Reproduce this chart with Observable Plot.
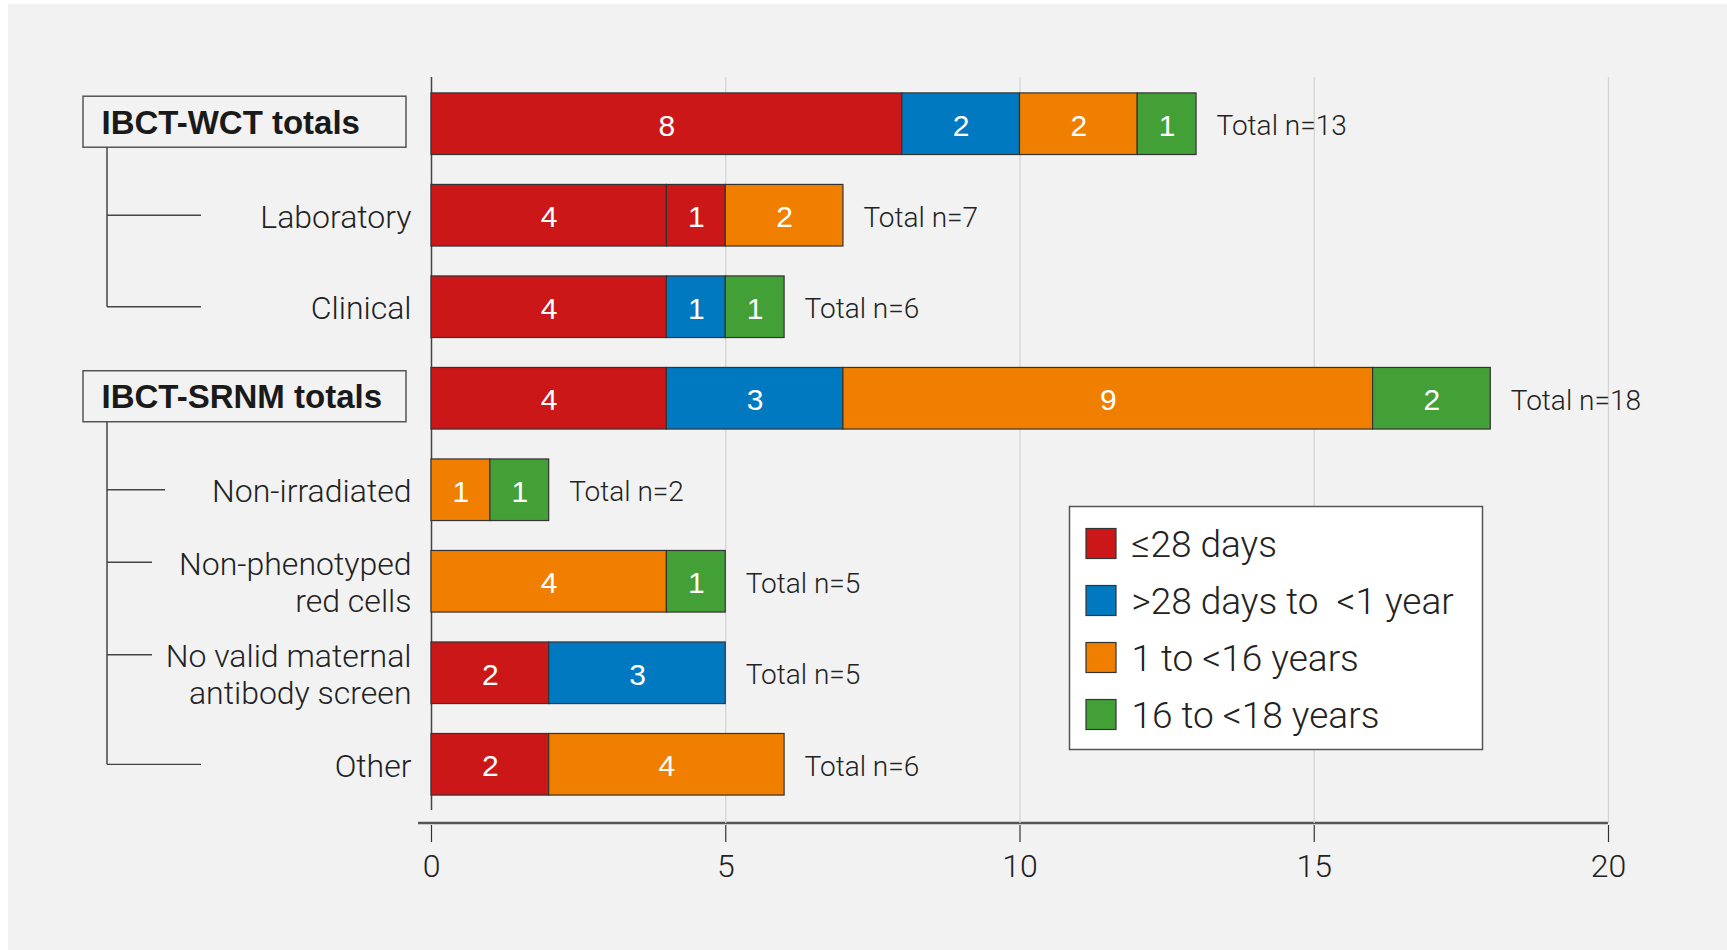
<!DOCTYPE html>
<html><head><meta charset="utf-8">
<script src="https://cdn.jsdelivr.net/npm/d3@7"></script>
<script src="https://cdn.jsdelivr.net/npm/@observablehq/plot@0.6"></script>
<style>
html,body{margin:0;padding:0;background:#fff;width:1727px;height:950px;overflow:hidden;}
#bg{position:absolute;left:8px;top:4px;width:1719px;height:946px;background:#f2f2f2;}
#chart{position:absolute;left:0;top:0;}
</style></head><body><div id="bg"></div><div id="chart"></div>
<script>
// ---- data ----
const categories = ["IBCT-WCT totals", "Laboratory", "Clinical", "IBCT-SRNM totals", "Non-irradiated", "Non-phenotyped\nred cells", "No valid maternal\nantibody screen", "Other"];
const groupRows = ["IBCT-WCT totals", "IBCT-SRNM totals"];
const groupChildren = [["Laboratory", "Clinical"], ["Non-irradiated", "Non-phenotyped\nred cells", "No valid maternal\nantibody screen", "Other"]];
const ageGroups = ["≤28 days", ">28 days to  <1 year", "1 to <16 years", "16 to <18 years"];
const ageColors = ["#cc1719", "#0079c1", "#f07f00", "#43a036"];
// segments, in stacking order (category index, age-group index, count)
const segCategory = [0, 0, 0, 0, 1, 1, 1, 2, 2, 2, 3, 3, 3, 3, 4, 4, 5, 5, 6, 6, 7, 7];
const segAge      = [0, 1, 2, 3, 0, 0, 2, 0, 1, 3, 0, 1, 2, 3, 2, 3, 2, 3, 0, 1, 0, 2];
const segValue    = [8, 2, 2, 1, 4, 1, 2, 4, 1, 1, 4, 3, 9, 2, 1, 1, 4, 1, 2, 3, 2, 4];
const totals = [13, 7, 6, 18, 2, 5, 5, 6];
const xTicks = [0, 5, 10, 15, 20];
const gridTicks = [5, 10, 15, 20];

// ---- tables built from the arrays ----
const segments = segValue.map((v, i) => ({i, cat: categories[segCategory[i]], age: ageGroups[segAge[i]], value: v}));
const totalRows = categories.map((c, i) => ({cat: c, total: totals[i]}));
const subRows = categories.filter(c => !groupRows.includes(c));

const light = "Roboto";
const chart = Plot.plot({
  width: 1727, height: 950,
  marginLeft: 431, marginRight: 119, marginTop: 63, marginBottom: 125,
  style: {background: "transparent", fontFamily: light, color: "#222"},
  x: {domain: [0, 20], axis: null},
  y: {domain: categories, padding: 0.327, round: false, axis: null},
  color: {domain: ageGroups, range: ageColors},
  marks: [
    Plot.ruleX(gridTicks, {stroke: "#d4d4d4", strokeWidth: 1.3, insetTop: 14, insetBottom: 2}),
    Plot.ruleX([0], {stroke: "#444", strokeWidth: 1.5, insetTop: 14, insetBottom: 15}),
    Plot.axisX(xTicks, {anchor: "bottom", tickSize: 17, tickPadding: 12, fontSize: 32, fontWeight: 300, fontFamily: light, stroke: "#333", fill: "#222", strokeWidth: 1.2}),
    Plot.barX(segments, Plot.stackX({x: "value", y: "cat", z: "i", fill: "age", stroke: "#333", strokeWidth: 1.2})),
    Plot.text(segments, Plot.stackX({x: "value", y: "cat", z: "i", text: "value", fill: "white", fontSize: 30, fontFamily: "Liberation Sans", dy: 2})),
    Plot.text(totalRows, {x: "total", y: "cat", text: d => `Total n=${d.total}`, textAnchor: "start", dx: 20, dy: 2, fontSize: 28, fontWeight: 300, fontFamily: light, fill: "#222", letterSpacing: -0.3}),
    Plot.text(subRows, {x: 0, y: d => d, text: d => d, textAnchor: "end", dx: -20, dy: 0, lineHeight: 1.17, fontSize: 32, fontWeight: 300, fontFamily: light, fill: "#222", letterSpacing: -0.5}),
    Plot.text(groupRows, {x: 0, y: d => d, text: d => d, textAnchor: "start", dx: -330, dy: -1, fontSize: 33, fontWeight: "bold", fontFamily: "Liberation Sans", fill: "#1a1a1a"})
  ]
});
document.getElementById("chart").appendChild(chart);

// ---- decorations drawn with the chart's scales ----
const svg = d3.select(chart);
const xs = chart.scale("x"), ys = chart.scale("y");
const bw = ys.bandwidth;
const yc = c => ys.apply(c) + bw / 2;
const x0 = xs.apply(0);
const deco = svg.append("g");
// x-axis baseline
const axisY = 823;
deco.append("line").attr("x1", x0 - 13).attr("x2", xs.apply(20)).attr("y1", axisY).attr("y2", axisY)
  .attr("stroke", "#555").attr("stroke-width", 2.5);

// group boxes and tree brackets
const boxLeft = x0 - 348, boxRight = x0 - 25, boxH = 51;
const trunkX = x0 - 324;
const branchEnds = [[x0 - 230, x0 - 230], [x0 - 266, x0 - 279, x0 - 279, x0 - 230]];
const branchDy = [[0, 0], [0, -19, -18, 0]];
groupRows.forEach((g, gi) => {
  const cy = yc(g) - 2;
  deco.insert("rect", ":first-child")
    .attr("x", boxLeft).attr("y", cy - boxH / 2).attr("width", boxRight - boxLeft).attr("height", boxH)
    .attr("fill", "#f2f2f2").attr("stroke", "#555").attr("stroke-width", 1.5);
  const kids = groupChildren[gi];
  const lastY = yc(kids[kids.length - 1]) + branchDy[gi][kids.length - 1];
  deco.append("line").attr("x1", trunkX).attr("x2", trunkX).attr("y1", cy + boxH / 2).attr("y2", lastY)
    .attr("stroke", "#444").attr("stroke-width", 1.5);
  kids.forEach((k, ki) => {
    const by = yc(k) + branchDy[gi][ki];
    deco.append("line").attr("x1", trunkX).attr("x2", branchEnds[gi][ki]).attr("y1", by).attr("y2", by)
      .attr("stroke", "#444").attr("stroke-width", 1.3);
  });
});
// place the decoration group beneath the marks
chart.insertBefore(deco.node(), chart.firstChild.nextSibling);

// legend
const lg = svg.append("g").attr("transform", "translate(1069.5,506.5)").attr("text-anchor", "start");
lg.append("rect").attr("width", 413).attr("height", 243).attr("fill", "#fff").attr("stroke", "#555").attr("stroke-width", 1.5);
ageGroups.forEach((a, i) => {
  const cy = 37 + i * 57;
  lg.append("rect").attr("x", 16.5).attr("y", cy - 15).attr("width", 30).attr("height", 30)
    .attr("fill", ageColors[i]).attr("stroke", "#333").attr("stroke-width", 1.2);
  lg.append("text").attr("x", 62).attr("y", cy).attr("dy", "0.36em").attr("text-anchor", "start")
    .attr("font-family", light).attr("font-weight", 300).attr("font-size", 37).attr("fill", "#222")
    .attr("xml:space", "preserve").style("white-space", "pre").text(a);
});
</script>
</body></html>
